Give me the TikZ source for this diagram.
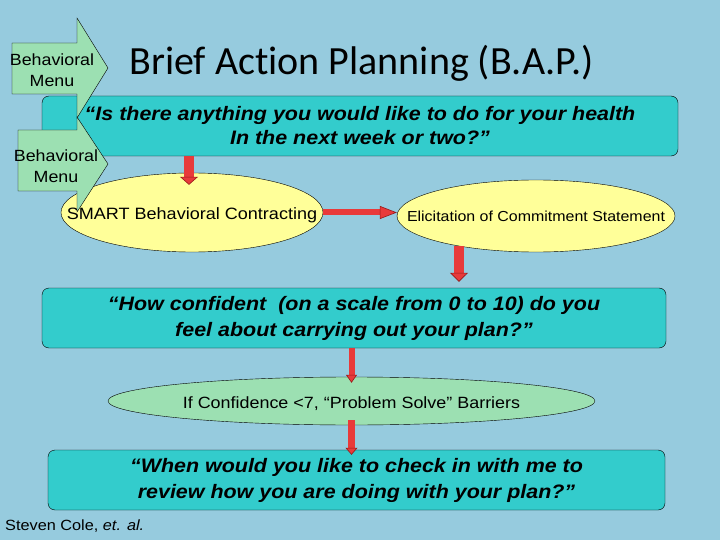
\documentclass[tikz,border=0pt]{standalone}
\usepackage{fontspec}
\setmainfont{Liberation Sans}[FakeStretch=1.1]
\newfontfamily\titlefont{Carlito}[Ligatures=NoCommon]
\usetikzlibrary{arrows.meta,shapes.geometric}
\definecolor{slidebg}{RGB}{150,203,222}
\definecolor{boxteal}{RGB}{51,204,204}
\definecolor{ovalfill}{RGB}{255,255,153}
\definecolor{menugreen}{RGB}{156,224,178}
\definecolor{redfill}{RGB}{232,58,58}
\definecolor{reddark}{RGB}{150,25,25}
\newcommand{\ovaltext}[2]{\makebox[0pt]{\smash{\raisebox{-#1}{#2}}}}
\begin{document}
\begin{tikzpicture}[x=1pt,y=-1pt,
	qbox/.style={draw=black,fill=boxteal,rounded corners=7pt,align=center,inner sep=0pt,font=\fontsize{19.5}{26}\selectfont\bfseries\itshape},
	yellowoval/.style={draw=black,fill=ovalfill,ellipse,inner sep=0pt},
	greenoval/.style={draw=black,fill=menugreen,ellipse,inner sep=0pt},
	menuarrow/.style={draw=black,fill=menugreen,line join=miter},
	menutext/.style={align=center,inner sep=0pt,font=\fontsize{16.2}{21}\selectfont},
	fatarrow/.style n args={3}{draw=redfill,line width=#1,-{Triangle[width=#2,length=#3,fill=redfill,color=reddark,line width=0.6pt]}}]
	\fill[slidebg] (0,0) rectangle (720,540);
	% title
	\node[anchor=base,inner sep=0pt,font=\titlefont\fontsize{40}{48}\selectfont] (title) at (361.5,75) {Brief Action Planning (B.A.P.)};
	% first question
	\node[qbox,minimum width=636pt,minimum height=60pt,font=\fontsize{19.5}{24}\selectfont\bfseries\itshape] (topq) at (360,126) {“Is there anything you would like to do for your health\\In the next week or two?”};
	% behavioral menu arrows
	\draw[menuarrow] (12,43) -- (77,43) -- (77,18) -- (108,68) -- (77,118) -- (77,94) -- (12,94) -- cycle;
	\node[menutext] (menuone) at (52,70) {Behavioral\\Menu};
	\node[yellowoval,minimum width=262pt,minimum height=79pt] (smart) at (192,212.5) {\ovaltext{6.5pt}{\fontsize{16.4}{20}\selectfont SMART Behavioral Contracting}};
	\draw[menuarrow] (18,130) -- (77,130) -- (77,117) -- (108,164) -- (77,212) -- (77,191) -- (18,191) -- cycle;
	\node[menutext] (menutwo) at (56,166) {Behavioral\\Menu};
	\node[yellowoval,minimum width=278pt,minimum height=72pt] (elicit) at (536,216) {\ovaltext{5.5pt}{\fontsize{14.5}{18}\selectfont Elicitation of Commitment Statement}};
	% confidence and follow up
	\node[qbox,minimum width=624pt,minimum height=60pt] (confq) at (354,318) {“How confident\ \ (on a scale from 0 to 10) do you\\feel about carrying out your plan?”};
	\node[greenoval,minimum width=487pt,minimum height=48pt] (barriers) at (351.5,401) {\ovaltext{7pt}{\fontsize{16.3}{20}\selectfont If Confidence <7, “Problem Solve” Barriers}};
	\node[qbox,minimum width=617pt,minimum height=60pt] (checkq) at (356.5,480) {“When would you like to check in with me to\\review how you are doing with your plan?”};
	\node[anchor=base west,inner sep=0pt,font=\fontsize{14.8}{18}\selectfont] (credit) at (5,530) {Steven Cole, \textit{et. al.}};
	% red arrows
	\draw[fatarrow={10pt}{18pt}{8pt}] (topq.south -| 189,0) -- ([yshift=-12pt]smart.north -| 189,0);
	\draw[fatarrow={6pt}{13pt}{17pt}] (smart.east) -- (smart.east -| elicit.west);
	\draw[fatarrow={10pt}{18pt}{9pt},shorten >=6pt] ([xshift=-77pt,yshift=6pt]elicit.south) -- ([xshift=-77pt]elicit.south |- confq.north);
	\draw[fatarrow={6pt}{11pt}{8pt}] (confq.south -| barriers) -- ([yshift=-6pt]barriers.north);
	\draw[fatarrow={7pt}{12pt}{7pt}] ([yshift=5pt]barriers.south) -- ([yshift=-5pt]checkq.north -| barriers);
\end{tikzpicture}
\end{document}
